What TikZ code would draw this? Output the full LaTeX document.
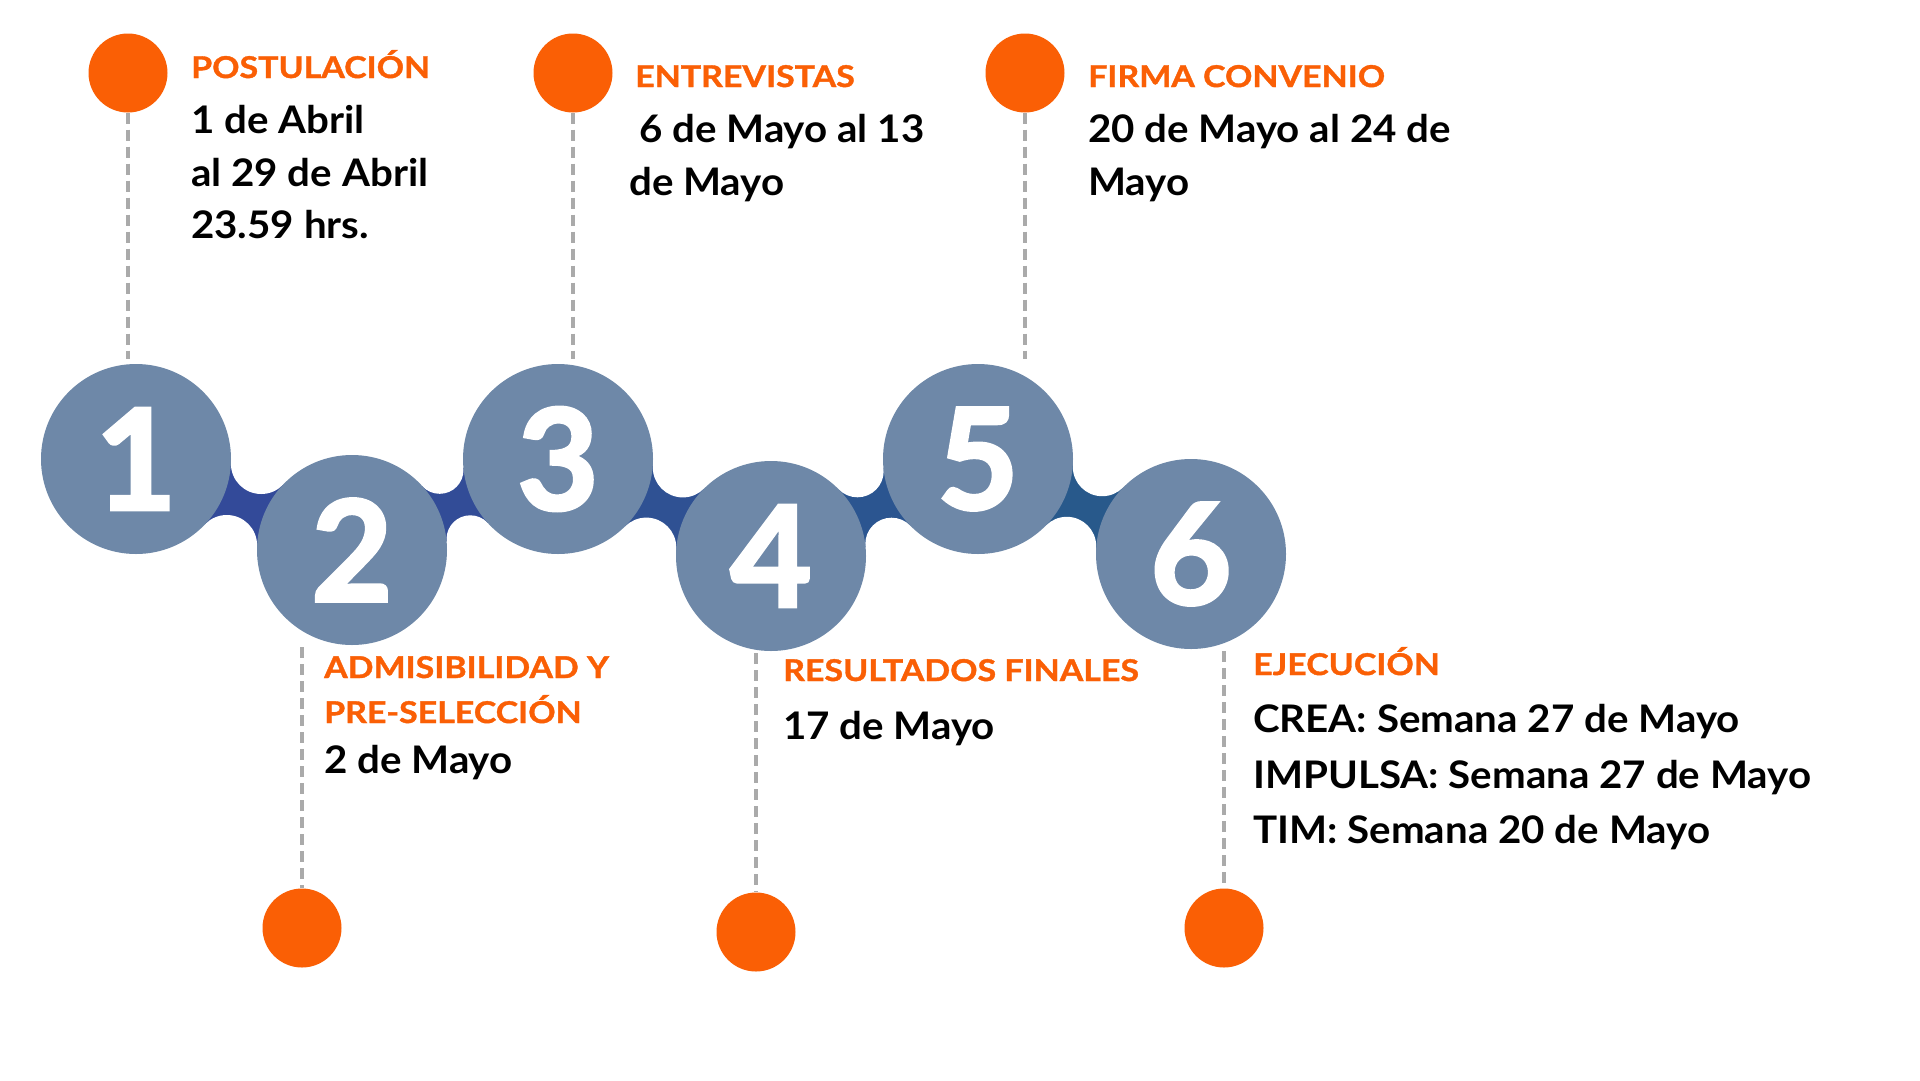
\documentclass[tikz,border=0pt]{standalone}
\usepackage{fontspec}
\setmainfont{Lato}
\newfontfamily\headfont{Lato}[FakeStretch=1.13, FakeBold=1.2]
\newfontfamily\bodyfont{Lato}[FakeStretch=1.06]
\newfontfamily\numfont{Lato}[FakeBold=2.5]
\definecolor{circ}{HTML}{6E88A8}
\definecolor{orng}{HTML}{FA5F05}
\definecolor{dashgray}{HTML}{AAAAAA}
\definecolor{bandA}{HTML}{334A99}
\definecolor{bandB}{HTML}{324C97}
\definecolor{bandC}{HTML}{2F5193}
\definecolor{bandD}{HTML}{2B5590}
\definecolor{bandE}{HTML}{28598B}
\tikzset{
  numcircle/.style={circle, fill=circ, minimum size=190pt, inner sep=0pt, text=white,
    font=\numfont\bfseries\fontsize{140}{140}\selectfont},
  orangedot/.style={circle, fill=orng, minimum size=79pt, inner sep=0pt},
  dashline/.style={draw=dashgray, line width=3.5pt, dash pattern=on 11pt off 6pt},
  headtxt/.style={anchor=base west, inner sep=0pt, text=orng,
    font=\headfont\bfseries\fontsize{30}{30}\selectfont},
  bodytxt/.style={anchor=base west, inner sep=0pt, text=black,
    font=\bodyfont\bfseries\fontsize{38}{38}\selectfont}
}
\begin{document}
\begin{tikzpicture}[x=1pt,y=-1pt]
\useasboundingbox (0,0) rectangle (1920,1080);
\fill[white] (0,0) rectangle (1920,1080);
% circle centres
\coordinate (p1) at (136,459);
\coordinate (p2) at (352,550);
\coordinate (p3) at (558,459);
\coordinate (p4) at (771,556);
\coordinate (p5) at (978,459);
\coordinate (p6) at (1191,554);
% carving centres
\coordinate (t12) at (261.2,463.7);  \coordinate (u12) at (226.8,545.3);
\coordinate (t23) at (439.7,470.0);  \coordinate (u23) at (470.3,539.1);
\coordinate (t34) at (682.8,467.4);  \coordinate (u34) at (646.3,547.6);
\coordinate (t45) at (857.5,471.1);  \coordinate (u45) at (891.5,543.9);
\coordinate (t56) at (1102.2,466.8); \coordinate (u56) at (1066.8,546.2);
% bridges
\fill[bandA] (p1) -- (t12) -- (p2) -- (u12) -- cycle;
\fill[bandB] (p2) -- (t23) -- (p3) -- (u23) -- cycle;
\fill[bandC] (p3) -- (t34) -- (p4) -- (u34) -- cycle;
\fill[bandD] (p4) -- (t45) -- (p5) -- (u45) -- cycle;
\fill[bandE] (p5) -- (t56) -- (p6) -- (u56) -- cycle;
\fill[white] (t12) circle[radius=30.3pt] (u12) circle[radius=30.3pt];
\fill[white] (t23) circle[radius=23.8pt] (u23) circle[radius=23.8pt];
\fill[white] (t34) circle[radius=30.0pt] (u34) circle[radius=30.0pt];
\fill[white] (t45) circle[radius=26.2pt] (u45) circle[radius=26.2pt];
\fill[white] (t56) circle[radius=29.4pt] (u56) circle[radius=29.4pt];
% numbered circles
\node[numcircle] (c1) at (p1) {1};
\node[numcircle] (c2) at (p2) {2};
\node[numcircle] (c3) at (p3) {3};
\node[numcircle] (c4) at (p4) {4};
\node[numcircle] (c5) at (p5) {5};
\node[numcircle] (c6) at (p6) {6};
% orange dots
\node[orangedot] (d1) at (128,73) {};
\node[orangedot] (d3) at (573,73) {};
\node[orangedot] (d5) at (1025,73) {};
\node[orangedot] (d2) at (302,928) {};
\node[orangedot] (d4) at (756,932) {};
\node[orangedot] (d6) at (1224,928) {};
% dashed connectors
\draw[dashline, shorten >=5pt] (d1.south) -- (d1.south |- c1.north);
\draw[dashline, shorten >=5pt] (d3.south) -- (d3.south |- c3.north);
\draw[dashline, shorten >=5pt] (d5.south) -- (d5.south |- c5.north);
\draw[dashline, shorten <=2pt] (d2.north |- c2.south) -- (d2.north);
\draw[dashline, shorten <=2pt] (d4.north |- c4.south) -- (d4.north);
\draw[dashline, shorten <=2pt] (d6.north |- c6.south) -- (d6.north);
% texts
\node[headtxt] (h1) at (191,78) {POSTULACIÓN};
\node[bodytxt] (b1a) at (191,133) {1 de Abril};
\node[bodytxt] (b1b) at (191,186) {al 29 de Abril};
\node[bodytxt] (b1c) at (191,238) {23.59 hrs.};
\node[headtxt] (h3) at (635,87) {ENTREVISTAS};
\node[bodytxt] (b3a) at (639,142) {6 de Mayo al 13};
\node[bodytxt] (b3b) at (629,195) {de Mayo};
\node[headtxt] (h5) at (1088,87) {FIRMA CONVENIO};
\node[bodytxt] (b5a) at (1088,142) {20 de Mayo al 24 de};
\node[bodytxt] (b5b) at (1088,195) {Mayo};
\node[headtxt] (h2a) at (324,678) {ADMISIBILIDAD Y};
\node[headtxt] (h2b) at (324,723) {PRE-SELECCIÓN};
\node[bodytxt] (b2a) at (324,773) {2 de Mayo};
\node[headtxt] (h4) at (783,681) {RESULTADOS FINALES};
\node[bodytxt] (b4a) at (783,739) {17 de Mayo};
\node[headtxt] (h6) at (1253,675) {EJECUCIÓN};
\node[bodytxt] (b6a) at (1253,732) {CREA: Semana 27 de Mayo};
\node[bodytxt] (b6b) at (1253,788) {IMPULSA: Semana 27 de Mayo};
\node[bodytxt] (b6c) at (1253,843) {TIM: Semana 20 de Mayo};
\end{tikzpicture}
\end{document}
